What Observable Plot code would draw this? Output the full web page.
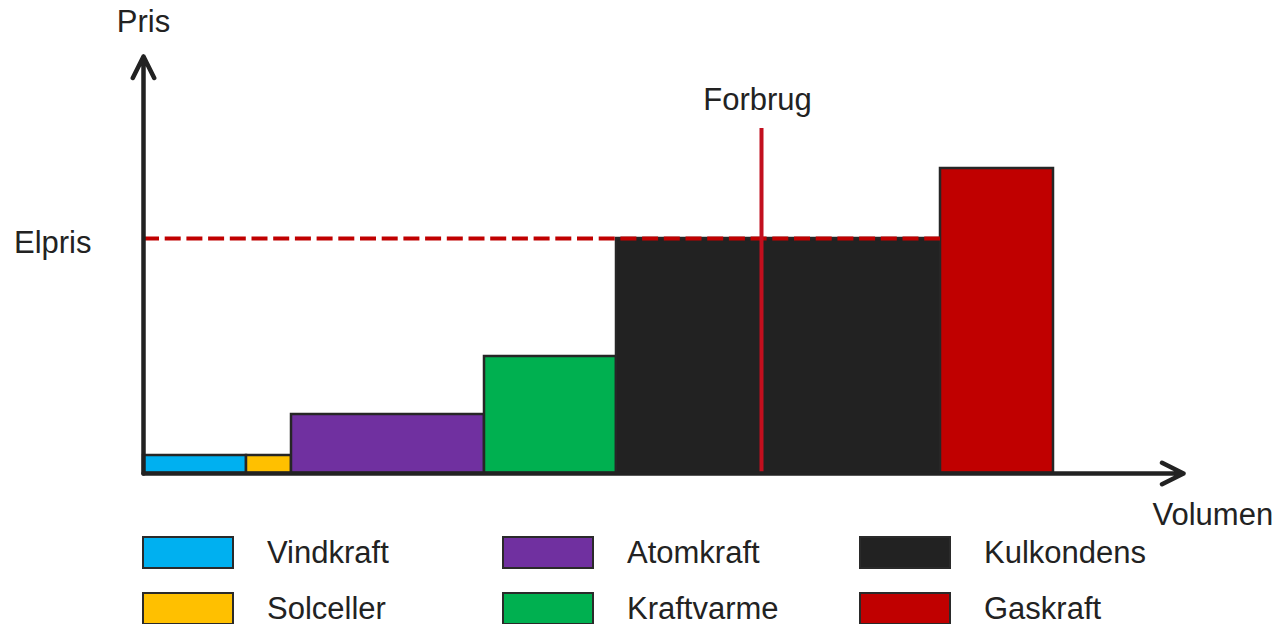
<!DOCTYPE html>
<html>
<head>
<meta charset="utf-8">
<script src="https://cdn.jsdelivr.net/npm/d3@7"></script>
<script src="https://cdn.jsdelivr.net/npm/@observablehq/plot@0.6"></script>
<style>
  html, body { margin: 0; padding: 0; background: #fff; }
  #wrap { width: 1279px; height: 624px; overflow: hidden; font-family: "Liberation Sans", Arial, sans-serif; color: #222; }
  #legend {
    display: grid;
    grid-auto-flow: column;
    grid-template-rows: repeat(2, 33px);
    grid-template-columns: 360px 357px auto;
    row-gap: 23px;
    padding-left: 142px;
    margin-top: 6px;
  }
  .item { display: flex; align-items: center; }
  .sw { width: 88px; height: 29px; border: 2px solid #2a2a2a; flex: none; }
  .lab { margin-left: 33px; font-size: 31px; line-height: 33px; }
</style>
</head>
<body>
<div id="wrap"></div>
<script>
// Merit-order supply curve: each producer offers a volume at a price
const producers = ["Vindkraft", "Solceller", "Atomkraft", "Kraftvarme", "Kulkondens", "Gaskraft"];
const volumes   = [10.3, 4.5, 19.3, 13.2, 32.4, 11.3];
const prices    = [1.8, 1.8, 5.9, 11.7, 23.5, 30.5];
const colors    = ["#00B0F0", "#FFC000", "#7030A0", "#00B050", "#222222", "#C00000"];
const legendOrder = ["Vindkraft", "Solceller", "Atomkraft", "Kraftvarme", "Kulkondens", "Gaskraft"];

// Demand (consumption) and axis extents
const forbrug = 61.8;
const forbrugTop = 34.5;
const volumeMax = 104;
const priceMax = 41.7;

// Stack the volumes into x-intervals
const ends = Array.from(d3.cumsum(volumes));
const blocks = producers.map((name, i) => ({
  name,
  x1: i === 0 ? 0 : ends[i - 1],
  x2: ends[i],
  price: prices[i]
}));

// The market price is set by the producer that covers the demand
const marginal = blocks.find(b => b.x1 <= forbrug && forbrug <= b.x2);
const elpris = marginal.price;

const chart = Plot.plot({
  width: 1279,
  height: 530,
  marginLeft: 143,
  marginRight: 96,
  marginTop: 56,
  marginBottom: 57,
  x: {domain: [0, volumeMax], axis: null},
  y: {domain: [0, priceMax], axis: null},
  color: {domain: producers, range: colors},
  style: {background: "white", fontFamily: "'Liberation Sans', Arial, sans-serif", fontSize: "31px", color: "#222"},
  marks: [
    Plot.rectY(blocks, {x1: "x1", x2: "x2", y: "price", fill: "name", stroke: "#262626", strokeWidth: 2.5}),
    Plot.ruleY([elpris], {x1: 0, x2: marginal.x2, stroke: "#C00000", strokeWidth: 4, strokeDasharray: "16,5.7"}),
    Plot.ruleX([forbrug], {y1: 0, y2: forbrugTop, stroke: "#C20F1E", strokeWidth: 4}),
    // axes drawn as arrows
    Plot.arrow([{x1: 0, y1: 0, x2: 0, y2: priceMax}, {x1: 0, y1: 0, x2: volumeMax, y2: 0}], {
      x1: "x1", y1: "y1", x2: "x2", y2: "y2",
      stroke: "#222", strokeWidth: 4.5, headLength: 8, headAngle: 53,
      strokeLinecap: "round", strokeLinejoin: "round"
    }),
    Plot.text(["Pris"], {x: 0, y: priceMax, dy: -34, fontSize: 31}),
    Plot.text(["Elpris"], {x: 0, y: elpris, dx: -52, dy: 5, textAnchor: "end", fontSize: 31}),
    Plot.text(["Forbrug"], {x: forbrug, y: forbrugTop, dx: -4, dy: -28, fontSize: 31}),
    Plot.text(["Volumen"], {x: volumeMax, y: 0, dx: -31, dy: 42, textAnchor: "start", fontSize: 31})
  ]
});

const wrap = document.getElementById("wrap");
wrap.appendChild(chart);

// Legend below the chart, filled column by column
const legend = document.createElement("div");
legend.id = "legend";
for (const name of legendOrder) {
  const item = document.createElement("div");
  item.className = "item";
  const sw = document.createElement("div");
  sw.className = "sw";
  sw.style.background = colors[producers.indexOf(name)];
  const lab = document.createElement("span");
  lab.className = "lab";
  lab.textContent = name;
  item.appendChild(sw);
  item.appendChild(lab);
  legend.appendChild(item);
}
wrap.appendChild(legend);
</script>
</body>
</html>
